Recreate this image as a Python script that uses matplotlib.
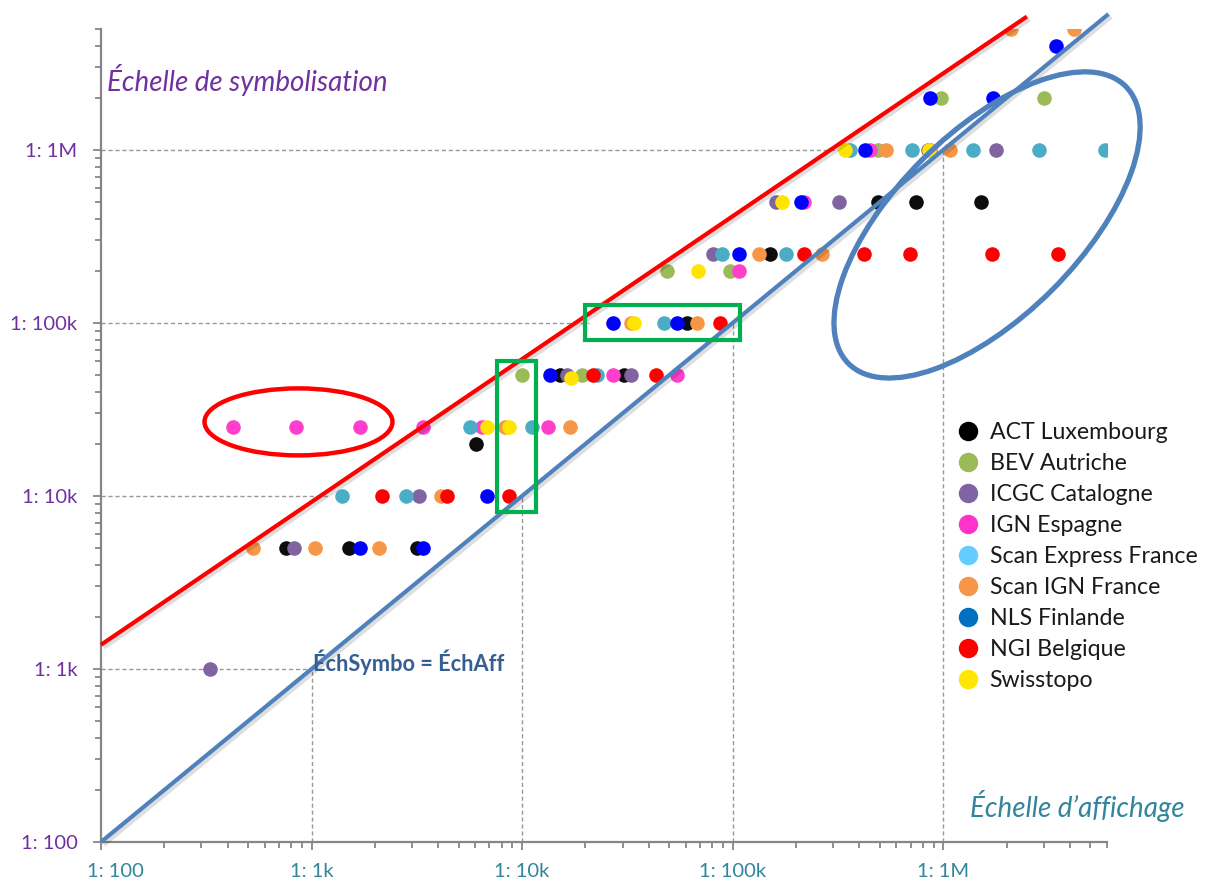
"""Echelle de symbolisation vs echelle d'affichage (log-log scatter)."""

import matplotlib
matplotlib.use('Agg')
from matplotlib import pyplot, patches, patheffects, transforms
from matplotlib.lines import Line2D
from matplotlib.ticker import NullFormatter

pyplot.rcParams['font.family'] = ['Lato', 'DejaVu Sans']

# Data (x = display scale, y = symbolisation scale).
act_x = [753, 1.5e3, 3.18e3, 6.05e3, 15.1e3, 30.4e3, 60.6e3, 151e3, 492e3, 745e3, 1.51e6]
act_y = [5e3, 5e3, 5e3, 20e3, 50e3, 50e3, 100e3, 250e3, 500e3, 500e3, 500e3]
bev_x = [10e3, 19.2e3, 48.6e3, 96.8e3, 492e3, 977e3, 3.0e6]
bev_y = [50e3, 50e3, 200e3, 200e3, 1e6, 2e6, 2e6]
icgc_x = [329, 822, 3.25e3, 16.3e3, 32.9e3, 80.4e3, 160e3, 321e3, 850e3, 1.78e6]
icgc_y = [1e3, 5e3, 10e3, 50e3, 50e3, 250e3, 500e3, 500e3, 1e6, 1e6]
ign_es_x = [422, 840, 1.69e3, 3.4e3, 6.46e3, 13.3e3, 27e3, 54.3e3, 107e3, 219e3, 451e3, 870e3]
ign_es_y = [25e3, 25e3, 25e3, 25e3, 25e3, 25e3, 50e3, 50e3, 200e3, 500e3, 1e6, 1e6]
scan_exp_x = [1.4e3, 2.82e3, 5.67e3, 11.1e3, 22.7e3, 47.1e3, 88.7e3, 180e3,
              362e3, 713e3, 1.39e6, 2.85e6, 5.86e6]
scan_exp_y = [10e3, 10e3, 25e3, 25e3, 50e3, 100e3, 250e3, 250e3,
              1e6, 1e6, 1e6, 1e6, 1e6]
scan_ign_x = [525, 1.04e3, 2.08e3, 4.13e3, 8.3e3, 16.9e3, 32.9e3, 67.5e3,
              134e3, 267e3, 537e3, 1.08e6, 2.1e6, 4.2e6]
scan_ign_y = [5e3, 5e3, 5e3, 10e3, 25e3, 25e3, 100e3, 100e3,
              250e3, 250e3, 1e6, 1e6, 5e6, 5e6]
nls_x = [1.69e3, 3.4e3, 6.82e3, 13.6e3, 27e3, 54.3e3, 107e3, 212e3, 427e3, 867e3, 1.73e6, 3.43e6]
nls_y = [5e3, 5e3, 10e3, 50e3, 100e3, 100e3, 250e3, 500e3, 1e6, 2e6, 2e6, 4e6]
ngi_x = [2.17e3, 4.41e3, 8.67e3, 21.7e3, 43.2e3, 86.8e3, 219e3, 422e3, 698e3, 1.71e6, 3.5e6]
ngi_y = [10e3, 10e3, 10e3, 50e3, 50e3, 100e3, 250e3, 250e3, 250e3, 250e3, 250e3]
swiss_x = [6.82e3, 8.67e3, 17.1e3, 33.9e3, 68.2e3, 171e3, 343e3, 859e3]
swiss_y = [25e3, 25e3, 48e3, 100e3, 200e3, 500e3, 1e6, 1e6]

labels = ['ACT Luxembourg', 'BEV Autriche', 'ICGC Catalogne', 'IGN Espagne',
          'Scan Express France', 'Scan IGN France', 'NLS Finlande',
          'NGI Belgique', 'Swisstopo']
xs = [act_x, bev_x, icgc_x, ign_es_x, scan_exp_x, scan_ign_x, nls_x, ngi_x, swiss_x]
ys = [act_y, bev_y, icgc_y, ign_es_y, scan_exp_y, scan_ign_y, nls_y, ngi_y, swiss_y]
point_colors = ['#0d0d0d', '#9bbb59', '#8064a2', '#ff3fcc', '#4bacc6',
                '#f79646', '#0000ff', '#ff0000', '#ffe400']
legend_colors = ['#000000', '#9bbb59', '#8064a2', '#ff33cc', '#66ccff',
                 '#f79646', '#0070c0', '#ff0000', '#ffe600']

# Reference lines.
identity_x = [100, 6.1e6]
identity_y = [100, 6.1e6]
upper_x = [100, 2.5e6]
upper_y = [1380, 5.9e6]

# Dashed projection guides.
guide_scales = [1e3, 1e4, 1e5, 1e6]
guide_h_end = [1e3, 1.22e3, 2.08e4, 3.36e5]

tick_values = [100, 1e3, 1e4, 1e5, 1e6]
tick_labels = ['1: 100', '1: 1k', '1: 10k', '1: 100k', '1: 1M']

purple = '#7030a0'
teal = '#31859c'
gray = '#868686'

fig = pyplot.figure(figsize=(12.05, 8.81), dpi=100)
ax = fig.add_axes([101 / 1205, 39 / 881, 1006 / 1205, 813 / 881])
ax.set_xscale('log')
ax.set_yscale('log')
ax.set_xlim(100, 6e6)
ax.set_ylim(100, 5e6)

for spine in ['top', 'right']:
    ax.spines[spine].set_visible(False)
for spine in ['left', 'bottom']:
    ax.spines[spine].set_color(gray)
    ax.spines[spine].set_linewidth(1.6)

ax.set_xticks(tick_values)
ax.set_xticklabels(tick_labels)
ax.set_yticks(tick_values)
ax.set_yticklabels(tick_labels)
ax.xaxis.set_minor_formatter(NullFormatter())
ax.yaxis.set_minor_formatter(NullFormatter())
ax.tick_params(which='major', direction='out', length=6, width=1.3, color=gray,
               labelsize=14.5)
ax.tick_params(which='minor', direction='out', length=4.5, width=1.3, color=gray)
ax.tick_params(axis='y', which='major', pad=11, labelcolor=purple)
ax.tick_params(axis='x', which='major', pad=9, labelcolor=teal)
first = ax.get_xticklabels()[0]
first.set_transform(first.get_transform()
                    + transforms.ScaledTranslation(0.14, 0, fig.dpi_scale_trans))

# Dashed guides.
for s, xe in zip(guide_scales, guide_h_end):
    ax.plot([100, xe], [s, s], color='#999999', lw=1, ls=(0, (3, 2)), zorder=1)
    ax.plot([s, s], [100, s], color='#999999', lw=1, ls=(0, (3, 2)), zorder=1)

# Points, in legend order so later series sit on top.
for x, y, c in zip(xs, ys, point_colors):
    ax.scatter(x, y, s=110, color=c, linewidths=0, zorder=3)

shadow = [patheffects.SimpleLineShadow(offset=(2, -2), shadow_color='k', alpha=0.13),
          patheffects.Normal()]
ax.plot(upper_x, upper_y, color='#ff0000', lw=3, clip_on=False, zorder=4,
        path_effects=shadow, solid_capstyle='butt')
ax.plot(identity_x, identity_y, color='#4f81bd', lw=3, clip_on=False, zorder=4,
        path_effects=shadow, solid_capstyle='butt')

# Highlight shapes.
ax.add_patch(patches.Rectangle((7.6e3, 8.1e3), 11.6e3 - 7.6e3, 60e3 - 8.1e3,
                               fill=False, edgecolor='#00b050', lw=3, zorder=5))
ax.add_patch(patches.Rectangle((19.9e3, 79.8e3), 108e3 - 19.9e3, 127e3 - 79.8e3,
                               fill=False, edgecolor='#00b050', lw=3, zorder=5))
red_oval = patches.Ellipse((0, 0), 1.88, 0.67, fill=False, edgecolor='#ff0000', lw=3.2,
                           transform=fig.dpi_scale_trans
                           + transforms.ScaledTranslation(867, 26.8e3, ax.transData),
                           zorder=5)
blue_oval = patches.Ellipse((0, 0), 3.92, 1.84, angle=45, fill=False,
                            edgecolor='#4f81bd', lw=3.8,
                            transform=fig.dpi_scale_trans
                            + transforms.ScaledTranslation(1.616e6, 368.6e3, ax.transData),
                            zorder=5)
for p in (red_oval, blue_oval):
    p.set_clip_on(False)
    ax.add_patch(p)

# Annotations.
fig.text(107 / 1205, 1 - 80 / 881, 'Échelle de symbolisation', color=purple,
         fontsize=20, style='italic', ha='left', va='center')
fig.text(1185 / 1205, 1 - 806 / 881, 'Échelle d’affichage', color=teal,
         fontsize=20, style='italic', ha='right', va='center')
fig.text(313 / 1205, 1 - 662 / 881, 'ÉchSymbo = ÉchAff', color='#365f91',
         fontsize=15.7, fontweight='bold', ha='left', va='center')

handles = [Line2D([], [], ls='', marker='o', markersize=14, color=c, markeredgewidth=0)
           for c in legend_colors]
fig.legend(handles, labels, loc='upper left', bbox_to_anchor=(956 / 1205, 1 - 422 / 881),
           frameon=False, fontsize=16.7, handlelength=1.0, handletextpad=0.45,
           labelspacing=0.43, borderaxespad=0, borderpad=0, labelcolor='#1a1a1a')

fig.savefig('out.png', dpi=100)
